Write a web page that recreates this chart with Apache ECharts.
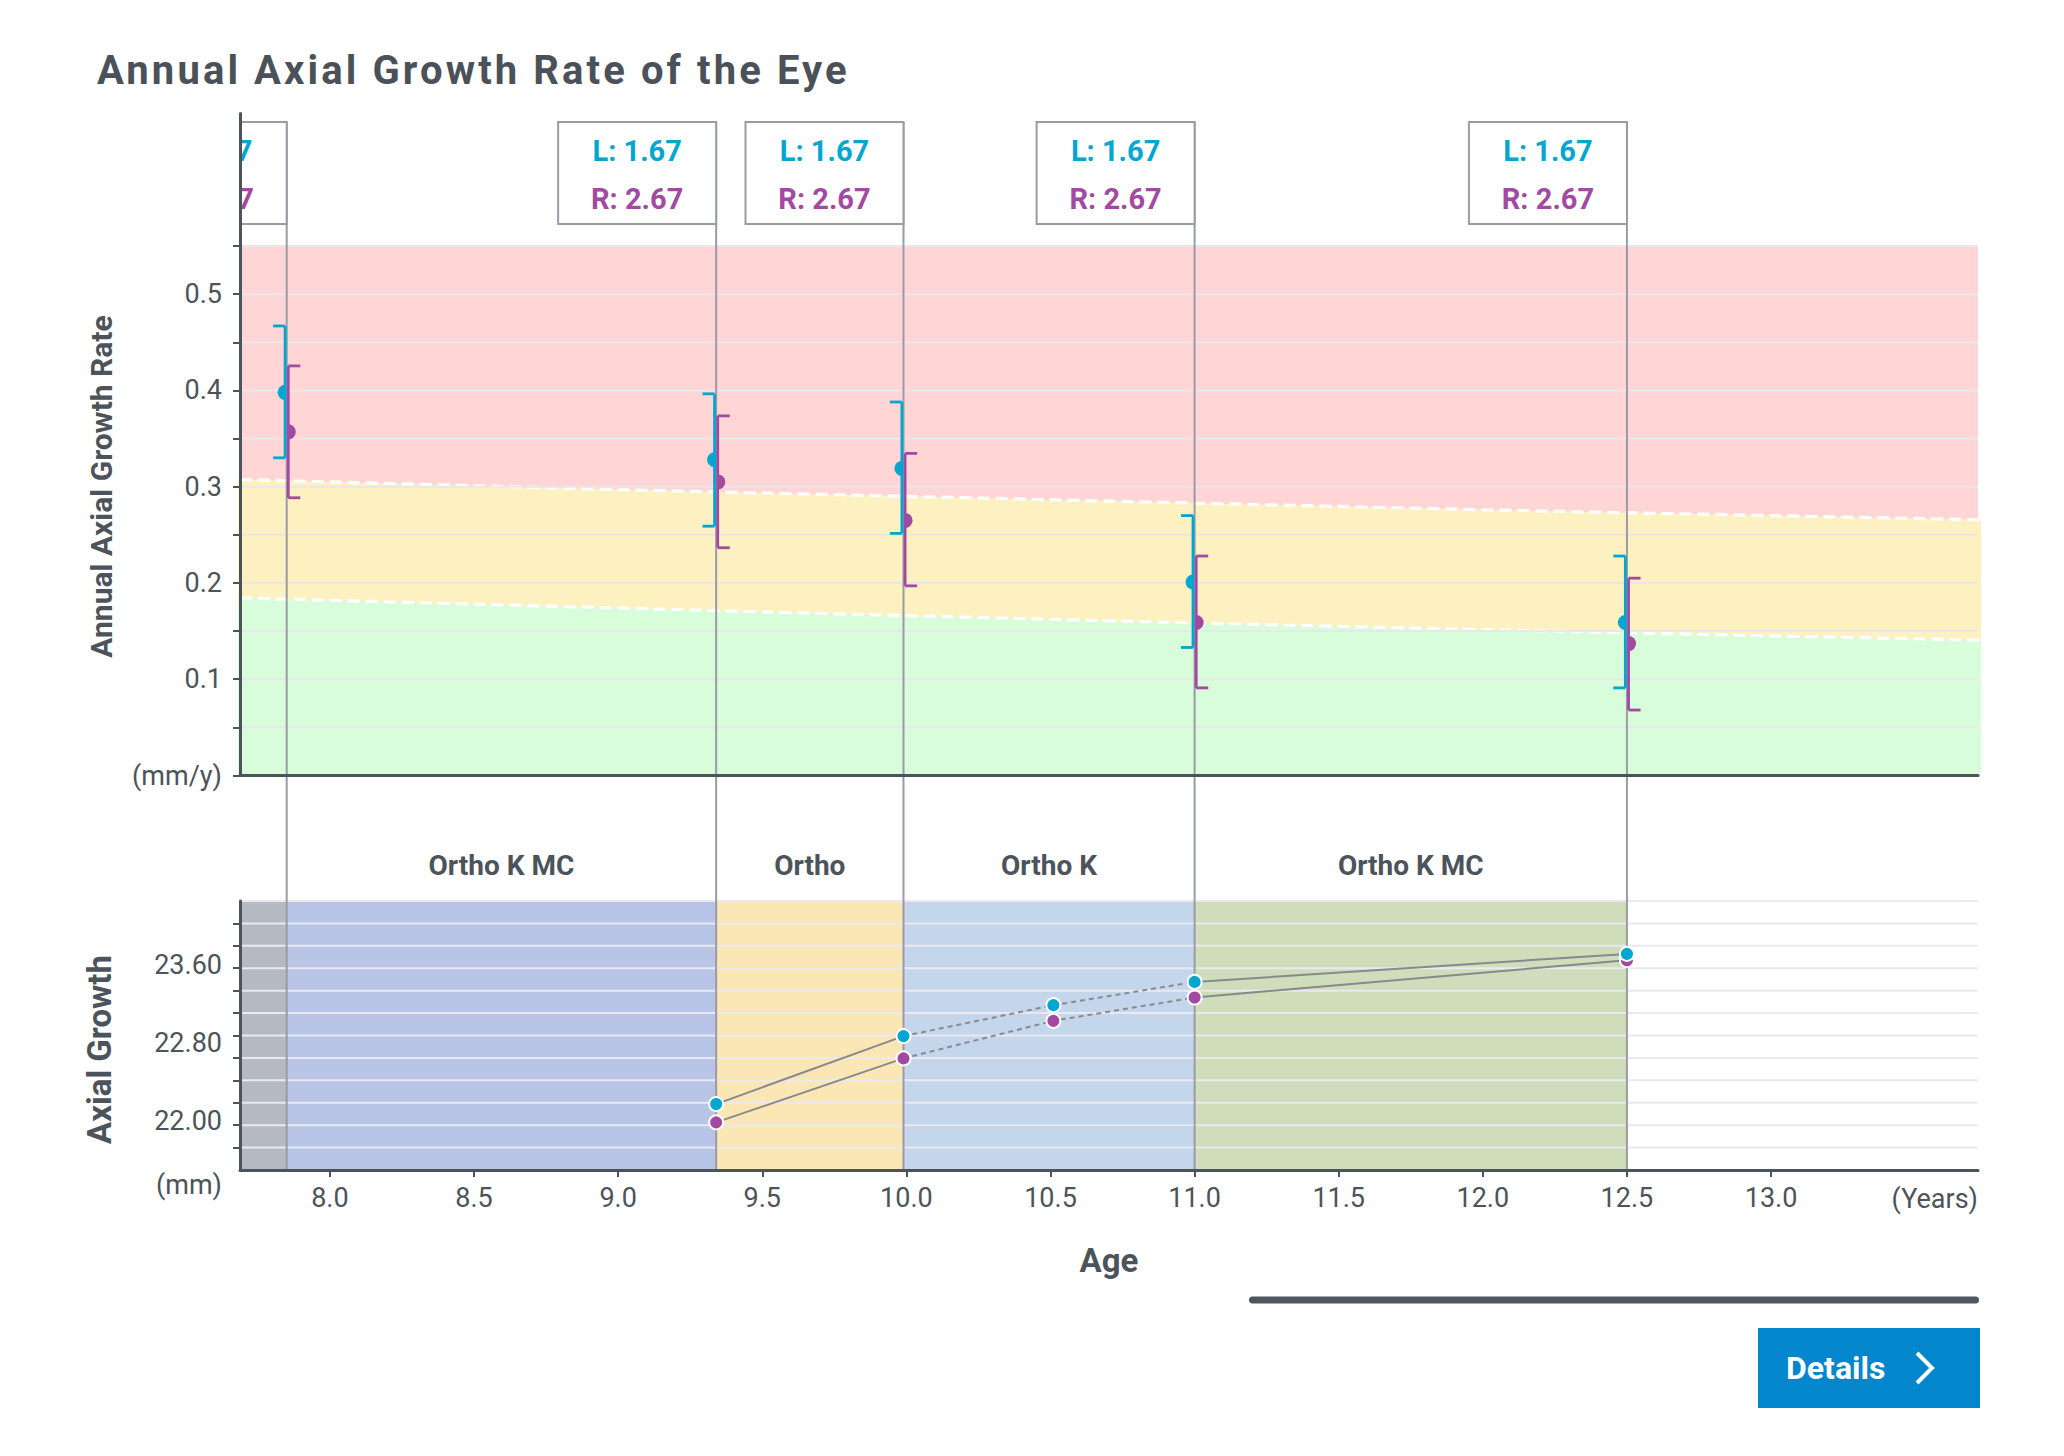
<!DOCTYPE html>
<html><head><meta charset="utf-8">
<script src="https://cdn.jsdelivr.net/npm/echarts@6.0.0/dist/echarts.min.js"></script>
<style>
html,body{margin:0;padding:0;background:#fff;}
#c{width:2064px;height:1456px;}
#c svg text[style*="40px"]{letter-spacing:3.1px;}
</style></head><body><div id="c"></div>
<script>
// ---------- data ----------
const visitAges = [7.85, 9.34, 9.99, 11.0, 12.5];
const boxL = [1.67, 1.67, 1.67, 1.67, 1.67];
const boxR = [2.67, 2.67, 2.67, 2.67, 2.67];

const rateLMean = [0.398, 0.328, 0.319, 0.201, 0.159];
const rateLLow  = [0.330, 0.259, 0.2515, 0.133, 0.091];
const rateLHigh = [0.467, 0.3965, 0.388, 0.270, 0.228];
const rateRMean = [0.357, 0.305, 0.265, 0.159, 0.137];
const rateRLow  = [0.2885, 0.2366, 0.197, 0.091, 0.068];
const rateRHigh = [0.4255, 0.3736, 0.3346, 0.228, 0.205];

const zoneAges  = [7.5, 8, 9, 10, 11, 12, 13, 14];
const zoneUpper = [0.309, 0.305, 0.297, 0.290, 0.283, 0.276, 0.270, 0.264];
const zoneLower = [0.186, 0.182, 0.174, 0.166, 0.1585, 0.1515, 0.145, 0.139];
const zoneTop = 0.55;

const axialAges = [9.34, 9.99, 10.51, 11.0, 12.5];
const axialL = [22.174, 22.869, 23.185, 23.423, 23.709];
const axialR = [21.987, 22.641, 23.025, 23.264, 23.645];
const segDashed = [false, true, true, false];

const periodStart = [7.5, 7.85, 9.34, 9.99, 11.0];
const periodEnd   = [7.85, 9.34, 9.99, 11.0, 12.5];
const periodName  = ['', 'Ortho K MC', 'Ortho', 'Ortho K', 'Ortho K MC'];
const periodColor = ['#b5bac2', '#b9c5e6', '#fbe7b5', '#c3d6eb', '#cfddbb'];

const ageTicks = [8.0, 8.5, 9.0, 9.5, 10.0, 10.5, 11.0, 11.5, 12.0, 12.5, 13.0];
const rateTicks = [0, 0.05, 0.1, 0.15, 0.2, 0.25, 0.3, 0.35, 0.4, 0.45, 0.5, 0.55];
const rateLabels = [0, 0.1, 0.2, 0.3, 0.4, 0.5];
const axialTicks = [21.729, 21.958, 22.188, 22.417, 22.646, 22.875, 23.104, 23.333, 23.563, 23.792, 24.021];
const axialGridLines = [21.729, 21.958, 22.188, 22.417, 22.646, 22.875, 23.104, 23.333, 23.563, 23.792, 24.021, 24.25];
const axialLabels = [21.5, 22.0, 22.8, 23.6];

// ---------- layout / style ----------
const X_MIN = 7.688, X_MAX = 13.718;
const RATE_MAX = 0.6877;
const AX_MIN = 21.5, AX_MAX = 24.25;
const G1 = {left: 240, right: 86, top: 113.5, height: 662};
const G2 = {left: 240, right: 86, top: 901, height: 269};
const G2_BOTTOM = G2.top + G2.height;
const TXT = '#4d535b';
const CYAN = '#03a6cf', MAG = '#a24aa2';
const VGRAY = '#9a9ba5';
const FONT = 'Roboto';

const chart = echarts.init(document.getElementById('c'), null, {renderer: 'svg'});

function hLines(color) {
  return function (params, api) {
    const cs = params.coordSys;
    const y = api.coord([api.value(0), api.value(1)])[1];
    return {type: 'line', shape: {x1: cs.x, y1: y, x2: cs.x + cs.width, y2: y},
      style: {stroke: color, lineWidth: 2}};
  };
}

function errRender(color, side) {
  return function (params, api) {
    const a = api.value(0);
    const c = api.coord([a, api.value(1)]);
    const lo = api.coord([a, api.value(2)]);
    const hi = api.coord([a, api.value(3)]);
    const bx = c[0] + side * 1.6;
    const cap = 12 * side;
    const st = {stroke: color, lineWidth: 2.8};
    return {type: 'group', children: [
      {type: 'line', shape: {x1: bx, y1: hi[1], x2: bx, y2: lo[1]}, style: st},
      {type: 'line', shape: {x1: bx, y1: hi[1], x2: bx + cap, y2: hi[1]}, style: st},
      {type: 'line', shape: {x1: bx, y1: lo[1], x2: bx + cap, y2: lo[1]}, style: st},
      {type: 'sector', shape: {cx: bx, cy: c[1], r0: 0, r: 7.5,
        startAngle: side < 0 ? Math.PI / 2 : -Math.PI / 2,
        endAngle: side < 0 ? Math.PI * 1.5 : Math.PI / 2, clockwise: true},
        style: {fill: color}}
    ]};
  };
}

function lineData(vals, dashed) {
  return axialAges.map((a, i) => {
    const before = i > 0 && segDashed[i - 1] === dashed;
    const after = i < segDashed.length && segDashed[i] === dashed;
    return [a, (before || after) ? vals[i] : '-'];
  });
}

function txt(text, x, y, color, size, weight) {
  return {type: 'text', style: {text: text, x: x, y: y, fill: color,
    font: (weight || 'normal') + ' ' + size + 'px ' + FONT,
    align: 'center', verticalAlign: 'middle', textAlign: 'center', textVerticalAlign: 'middle'}};
}

const option = {
  backgroundColor: '#fff',
  animation: false,
  title: {text: 'Annual Axial Growth Rate of the Eye', left: 92, top: 45,
    textStyle: {fontSize: 40, fontWeight: 'bold', color: '#4b5159', fontFamily: FONT}},
  grid: [
    Object.assign({containLabel: false}, G1),
    Object.assign({containLabel: false}, G2)
  ],
  xAxis: [
    {type: 'value', gridIndex: 0, position: 'bottom', z: 10, min: X_MIN, max: X_MAX,
      axisLine: {show: true, onZero: false, lineStyle: {color: TXT, width: 3}},
      axisTick: {show: false}, axisLabel: {show: false}, splitLine: {show: false}},
    {type: 'value', gridIndex: 1, position: 'bottom', z: 10, min: X_MIN, max: X_MAX,
      axisLine: {show: true, onZero: false, lineStyle: {color: TXT, width: 3}},
      axisTick: {show: true, customValues: ageTicks, length: 7, lineStyle: {color: TXT, width: 2}},
      axisLabel: {customValues: ageTicks, formatter: v => v.toFixed(1), fontSize: 27,
        color: TXT, fontFamily: FONT, margin: 14},
      splitLine: {show: false},
      name: '(Years)', nameLocation: 'end', nameGap: 0,
      nameTextStyle: {align: 'right', verticalAlign: 'top', padding: [15, 0, 0, 0],
        fontSize: 27, color: TXT, fontFamily: FONT}},
    {type: 'value', gridIndex: 1, position: 'bottom', offset: 0, min: X_MIN, max: X_MAX,
      axisLine: {show: false, onZero: false}, axisTick: {show: false}, axisLabel: {show: false},
      splitLine: {show: false},
      name: 'Age', nameLocation: 'middle', nameGap: 74,
      nameTextStyle: {fontSize: 33, fontWeight: 'bold', color: TXT, fontFamily: FONT}}
  ],
  yAxis: [
    {type: 'value', gridIndex: 0, z: 10, min: 0, max: RATE_MAX,
      axisLine: {show: true, onZero: false, lineStyle: {color: TXT, width: 3}},
      axisTick: {show: true, customValues: rateTicks, length: 7, lineStyle: {color: TXT, width: 2}},
      axisLabel: {customValues: rateLabels,
        formatter: v => (v === 0 ? '(mm/y)' : v.toFixed(1)),
        fontSize: 27, color: TXT, fontFamily: FONT, margin: 18},
      splitLine: {show: false},
      name: 'Annual Axial Growth Rate', nameLocation: 'middle', nameGap: 124,
      nameTextStyle: {fontSize: 30, fontWeight: 'bold', color: TXT, fontFamily: FONT,
        padding: [0, 84, 0, 0]}},
    {type: 'value', gridIndex: 1, z: 10, min: AX_MIN, max: AX_MAX,
      axisLine: {show: true, onZero: false, lineStyle: {color: TXT, width: 3}},
      axisTick: {show: true, customValues: axialTicks, length: 7, lineStyle: {color: TXT, width: 2}},
      axisLabel: {customValues: axialLabels,
        formatter: v => (v === AX_MIN ? '{u|(mm)}' : v.toFixed(2)),
        rich: {u: {padding: [30, 0, 0, 0], fontSize: 27, color: TXT, fontFamily: FONT}},
        fontSize: 27, color: TXT, fontFamily: FONT, margin: 18},
      splitLine: {show: false},
      name: 'Axial Growth', nameLocation: 'middle', nameGap: 124,
      nameTextStyle: {fontSize: 33, fontWeight: 'bold', color: TXT, fontFamily: FONT,
        padding: [0, 28, 0, 0]}}
  ],
  series: [
    // --- top zones ---
    {type: 'line', xAxisIndex: 0, yAxisIndex: 0, z: 1, silent: true, showSymbol: false,
      data: zoneAges.map(a => [a, zoneTop]),
      lineStyle: {width: 0, opacity: 0}, areaStyle: {color: '#ffd5d6', opacity: 1}},
    {type: 'line', xAxisIndex: 0, yAxisIndex: 0, z: 1, silent: true, showSymbol: false,
      data: zoneAges.map((a, i) => [a, zoneUpper[i]]),
      lineStyle: {color: '#ffffff', width: 3.2, type: [12, 6]}, areaStyle: {color: '#fdf0c1', opacity: 1}},
    {type: 'line', xAxisIndex: 0, yAxisIndex: 0, z: 1, silent: true, showSymbol: false,
      data: zoneAges.map((a, i) => [a, zoneLower[i]]),
      lineStyle: {color: '#ffffff', width: 3.2, type: [12, 6]}, areaStyle: {color: '#d8fdda', opacity: 1}},
    // --- top grid lines ---
    {type: 'custom', xAxisIndex: 0, yAxisIndex: 0, z: 2, silent: true,
      data: rateTicks.filter(v => v > 0).map(v => [X_MIN, v]),
      renderItem: hLines('#e9e6ec')},
    // --- vertical visit lines ---
    {type: 'custom', xAxisIndex: 0, yAxisIndex: 0, z: 3, silent: true, clip: false,
      data: visitAges.map(a => [a, 0]),
      renderItem: function (params, api) {
        const cs = params.coordSys;
        const x = api.coord([api.value(0), 0])[0];
        return {type: 'line', shape: {x1: x, y1: cs.y + 8.5, x2: x, y2: G2_BOTTOM},
          style: {stroke: VGRAY, lineWidth: 2}};
      }},
    // --- value boxes ---
    {type: 'custom', xAxisIndex: 0, yAxisIndex: 0, z: 3, silent: true, clip: true,
      data: visitAges.map((a, i) => [a, 0, boxL[i], boxR[i]]),
      renderItem: function (params, api) {
        const cs = params.coordSys;
        const x = api.coord([api.value(0), 0])[0];
        const top = cs.y + 8.5;
        return {type: 'group', children: [
          {type: 'rect', shape: {x: x - 158, y: top, width: 158, height: 102},
            style: {fill: '#ffffff', stroke: VGRAY, lineWidth: 2}},
          txt('L: ' + api.value(2).toFixed(2), x - 79, top + 28.5, CYAN, 29, 'bold'),
          txt('R: ' + api.value(3).toFixed(2), x - 79, top + 77, MAG, 29, 'bold')
        ]};
      }},
    // --- error bars ---
    {type: 'custom', xAxisIndex: 0, yAxisIndex: 0, z: 4, silent: true,
      data: visitAges.map((a, i) => [a, rateLMean[i], rateLLow[i], rateLHigh[i]]),
      renderItem: errRender(CYAN, -1)},
    {type: 'custom', xAxisIndex: 0, yAxisIndex: 0, z: 4, silent: true,
      data: visitAges.map((a, i) => [a, rateRMean[i], rateRLow[i], rateRHigh[i]]),
      renderItem: errRender(MAG, 1)},
    // --- bottom period bands ---
    {type: 'custom', xAxisIndex: 1, yAxisIndex: 1, z: 1, silent: true, clip: true,
      data: periodStart.map((s, i) => [s, AX_MIN, periodEnd[i], i]),
      renderItem: function (params, api) {
        const p0 = api.coord([api.value(0), AX_MAX]);
        const p1 = api.coord([api.value(2), AX_MIN]);
        return {type: 'rect', shape: {x: p0[0], y: p0[1], width: p1[0] - p0[0], height: p1[1] - p0[1]},
          style: {fill: periodColor[api.value(3)]}};
      }},
    {type: 'custom', xAxisIndex: 1, yAxisIndex: 1, z: 1, silent: true, clip: false,
      data: periodStart.map((s, i) => [s, AX_MAX, periodEnd[i], i]),
      renderItem: function (params, api) {
        const name = periodName[api.value(3)];
        if (!name) return null;
        const cs = params.coordSys;
        const x0 = api.coord([api.value(0), AX_MAX])[0];
        const x1 = api.coord([api.value(2), AX_MAX])[0];
        return txt(name, (x0 + x1) / 2, cs.y - 36, TXT, 28, 'bold');
      }},
    // --- bottom grid lines ---
    {type: 'custom', xAxisIndex: 1, yAxisIndex: 1, z: 2, silent: true,
      data: axialGridLines.map(v => [X_MIN, v]),
      renderItem: hLines('#e9e9ef')},
    // --- bottom lines ---
    {type: 'line', xAxisIndex: 1, yAxisIndex: 1, z: 3, silent: true, showSymbol: false,
      connectNulls: false, data: lineData(axialL, false),
      lineStyle: {color: '#87898e', width: 2}},
    {type: 'line', xAxisIndex: 1, yAxisIndex: 1, z: 3, silent: true, showSymbol: false,
      connectNulls: false, data: lineData(axialR, false),
      lineStyle: {color: '#87898e', width: 2}},
    {type: 'line', xAxisIndex: 1, yAxisIndex: 1, z: 3, silent: true, showSymbol: false,
      connectNulls: false, data: lineData(axialL, true),
      lineStyle: {color: '#8a8a8e', width: 2, type: [5, 4]}},
    {type: 'line', xAxisIndex: 1, yAxisIndex: 1, z: 3, silent: true, showSymbol: false,
      connectNulls: false, data: lineData(axialR, true),
      lineStyle: {color: '#8a8a8e', width: 2, type: [5, 4]}},
    {type: 'scatter', xAxisIndex: 1, yAxisIndex: 1, z: 5, silent: true, symbolSize: 14,
      data: axialAges.map((a, i) => [a, axialR[i]]),
      itemStyle: {color: MAG, borderColor: '#fff', borderWidth: 2, opacity: 1}},
    {type: 'scatter', xAxisIndex: 1, yAxisIndex: 1, z: 5, silent: true, symbolSize: 14,
      data: axialAges.map((a, i) => [a, axialL[i]]),
      itemStyle: {color: CYAN, borderColor: '#fff', borderWidth: 2, opacity: 1}}
  ],
  graphic: [
    {type: 'rect', shape: {x: 1249, y: 1296.5, width: 730, height: 7, r: 3.5},
      style: {fill: '#50565f'}},
    {type: 'rect', shape: {x: 1758, y: 1328, width: 222, height: 80},
      style: {fill: '#0386cb'}},
    {type: 'text', style: {text: 'Details', x: 1786, y: 1368, fill: '#ffffff',
      font: 'bold 32px ' + FONT, verticalAlign: 'middle', textVerticalAlign: 'middle'}},
    {type: 'polyline', shape: {points: [[1917, 1353], [1932, 1368], [1917, 1383]]},
      style: {stroke: '#ffffff', lineWidth: 4, fill: null}}
  ]
};
chart.setOption(option);
</script>
</body></html>
